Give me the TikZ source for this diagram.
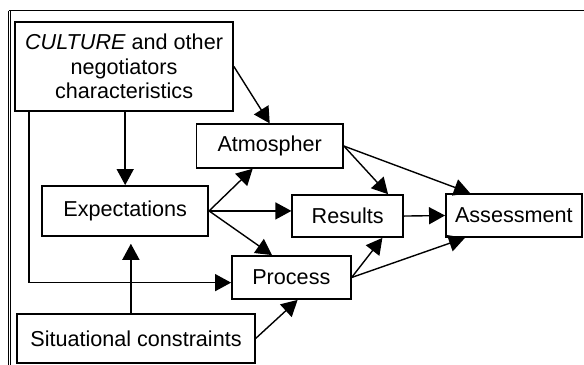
\documentclass[tikz,border=0pt]{standalone}
\usepackage{fontspec}
\setmainfont{Liberation Sans}
\usetikzlibrary{shapes,backgrounds}
\usetikzlibrary{arrows.meta}

\tikzset{
  box/.style={draw,line width=0.8pt,inner sep=0pt,align=center,
    font=\fontsize{10.8}{12.3}\selectfont},
  >={Triangle[length=8pt,width=8.5pt]}
}

\begin{document}
\begin{tikzpicture}[line width=0.7pt]
\useasboundingbox (0,0) rectangle (10.263,6.397);
% outer frame
\draw [line width=0.35pt,double,double distance=0.6pt] (0.17,-0.2) -- (0.17,6.21);
\draw [line width=0.8pt] (0.15,6.21) -- (10.5,6.21);
\node [box,minimum width=3.83cm,minimum height=1.56cm] (culture) at (2.18,5.23)
  {\textit{CULTURE} and other\\negotiators\\characteristics};
\node [box,minimum width=2.58cm,minimum height=0.77cm] (atmos) at (4.74,3.83) {Atmospher};
\node [box,minimum width=2.92cm,minimum height=0.88cm] (expect) at (2.2,2.69) {Expectations};
\node [box,minimum width=1.95cm,minimum height=0.74cm] (results) at (6.11,2.6) {Results};
\node [box,minimum width=2.39cm,minimum height=0.76cm] (assess) at (9.03,2.61) {Assessment};
\node [box,minimum width=2.09cm,minimum height=0.76cm] (process) at (5.12,1.52) {Process};
\node [box,minimum width=4.18cm,minimum height=0.86cm] (situ) at (2.39,0.45) {Situational constraints};
% arrows
\draw [->] (expect.north |- culture.south) -- (expect.north);
\draw [->] (culture.east) -- (atmos.north);
\draw [->] ([xshift=0.26cm]culture.south west) |- ([yshift=-0.09cm]process.west);
\draw [->] (expect.east) -- ([xshift=-0.3cm]atmos.south);
\draw [->] (expect.east) -- (expect.east -| results.west);
\draw [->] (expect.east) -- ([xshift=-0.34cm]process.north);
\draw [->,shorten >=3.5pt] ([xshift=-0.09cm]situ.north) -- ([xshift=-0.09cm]situ.north |- expect.south);
\draw [->] (situ.east) -- ([xshift=0.11cm]process.south);
\draw [->] (process.east) -- ([xshift=0.61cm]results.south);
\draw [->] (process.east) -- ([xshift=-0.86cm]assess.south);
\draw [->] (atmos.east) -- ([xshift=0.71cm]results.north);
\draw [->] (atmos.east) -- ([xshift=-0.77cm]assess.north);
\draw [->] (results.east) -- (assess.west);
\end{tikzpicture}
\end{document}
